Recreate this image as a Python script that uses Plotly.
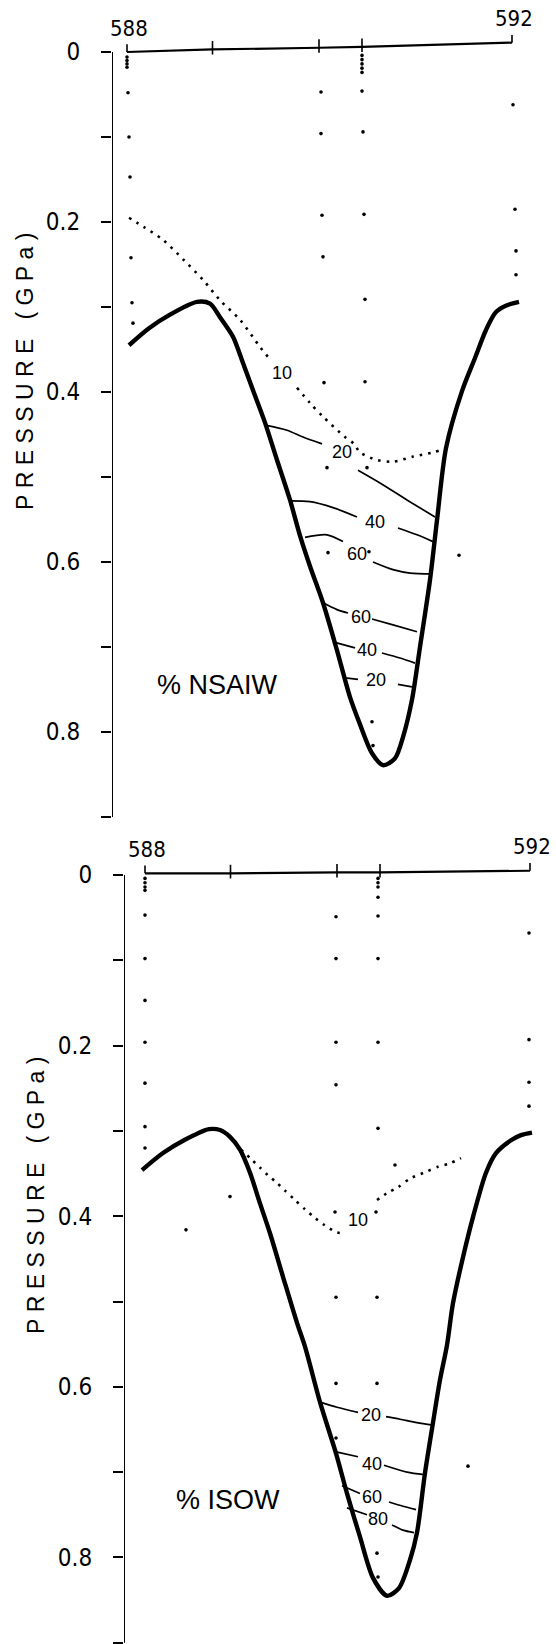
import plotly.graph_objects as go

# ---------------- data ----------------
# station positions along the section (km from station 588)
station_x = [0.0, 17.1, 38.4, 47.0, 77.0]
station_labels = ["588", "", "", "", "592"]

pressure_ticks = [0.0, 0.1, 0.2, 0.3, 0.4, 0.5, 0.6, 0.7, 0.8, 0.9]
pressure_tick_labels = ["0", "", "0.2", "", "0.4", "", "0.6", "", "0.8", ""]
pressure_axis_span = [0.0, 0.9]

# ---- upper panel: % NSAIW ----
nsaiw_surface_p = [0.0, -0.003, -0.005, -0.006, -0.011]
nsaiw_bottom = [(0.4, 0.345), (4.4, 0.325), (8.6, 0.309), (14.0, 0.294), (16.6, 0.296),
                (18.6, 0.312), (21.2, 0.335), (23.2, 0.366), (25.2, 0.398), (27.6, 0.436),
                (30.0, 0.480), (32.6, 0.527), (34.6, 0.569), (36.6, 0.605), (39.2, 0.648),
                (42.0, 0.704), (44.6, 0.759), (46.6, 0.791), (49.0, 0.825), (51.2, 0.839),
                (53.6, 0.831), (55.2, 0.806), (57.0, 0.762), (58.6, 0.700), (60.6, 0.621),
                (62.0, 0.551), (63.8, 0.466), (67.0, 0.399), (69.6, 0.360), (71.8, 0.327),
                (73.8, 0.306), (76.0, 0.298), (78.4, 0.294)]
nsaiw_10_a = [(0.4, 0.195), (3.4, 0.206), (7.2, 0.221), (11.4, 0.245), (15.2, 0.268),
              (18.6, 0.292), (22.6, 0.315), (26.6, 0.347), (28.4, 0.360)]
nsaiw_10_b = [(34.0, 0.395), (36.6, 0.413), (39.2, 0.429), (43.6, 0.453), (45.4, 0.461),
              (46.6, 0.471), (50.0, 0.480), (53.2, 0.482), (57.2, 0.476), (61.2, 0.471),
              (64.0, 0.466)]
nsaiw_20_a = [(27.6, 0.439), (32.0, 0.445), (35.2, 0.453), (39.0, 0.461)]
nsaiw_20_b = [(46.2, 0.492), (50.6, 0.507), (56.0, 0.527), (61.6, 0.547)]
nsaiw_40_a = [(32.6, 0.528), (36.6, 0.529), (41.2, 0.536), (46.0, 0.547)]
nsaiw_40_b = [(54.2, 0.560), (58.0, 0.568), (61.2, 0.576)]
nsaiw_60_a = [(35.6, 0.571), (40.0, 0.568), (43.2, 0.576)]
nsaiw_60_b = [(49.2, 0.600), (53.2, 0.609), (56.6, 0.613), (61.0, 0.614)]
nsaiw_60_c = [(39.2, 0.648), (42.0, 0.656), (44.2, 0.660)]
nsaiw_60_d = [(49.0, 0.667), (53.2, 0.674), (58.0, 0.682)]
nsaiw_40_c = [(41.2, 0.694), (45.6, 0.701)]
nsaiw_40_d = [(51.0, 0.707), (54.6, 0.713), (57.6, 0.719)]
nsaiw_20_c = [(43.2, 0.736), (46.2, 0.738)]
nsaiw_20_d = [(54.2, 0.744), (57.0, 0.747)]
nsaiw_contour_labels = ["10", "20", "40", "60", "60", "40", "20"]
nsaiw_contour_label_pos = [(31.0, 0.378), (43.0, 0.471), (49.6, 0.553), (46.0, 0.591),
                           (46.8, 0.665), (48.0, 0.703), (49.8, 0.739)]
nsaiw_samples = [(0.0, 0.006), (0.0, 0.010), (0.0, 0.014), (0.0, 0.018), (0.2, 0.048),
                 (0.4, 0.100), (0.6, 0.147), (0.8, 0.242), (1.0, 0.295), (1.2, 0.319),
                 (38.8, 0.047), (38.8, 0.096), (39.0, 0.192), (39.2, 0.241), (39.4, 0.389),
                 (40.0, 0.489), (40.2, 0.589),
                 (47.0, 0.004), (47.0, 0.009), (47.0, 0.014), (47.0, 0.019), (47.0, 0.024),
                 (47.0, 0.046), (47.2, 0.094), (47.4, 0.191), (47.6, 0.291), (47.6, 0.388),
                 (48.0, 0.489), (48.4, 0.588), (49.0, 0.788), (49.2, 0.816),
                 (77.2, 0.062), (77.6, 0.185), (77.8, 0.234), (77.8, 0.262),
                 (66.4, 0.592)]

# ---- lower panel: % ISOW ----
isow_surface_p = [-0.002, -0.002, -0.003, -0.003, -0.005]
isow_bottom = [(-0.6, 0.346), (3.6, 0.326), (7.8, 0.311), (12.8, 0.298), (15.0, 0.299),
               (17.0, 0.307), (19.0, 0.322), (21.0, 0.349), (23.0, 0.385), (25.0, 0.420),
               (27.6, 0.471), (30.4, 0.525), (32.0, 0.553), (35.0, 0.618), (38.2, 0.678),
               (40.4, 0.725), (43.0, 0.776), (45.6, 0.824), (48.4, 0.845), (50.8, 0.836),
               (53.0, 0.803), (54.4, 0.771), (56.0, 0.701), (57.6, 0.642), (59.0, 0.592),
               (60.4, 0.551), (61.6, 0.502), (63.6, 0.448), (65.6, 0.401), (68.2, 0.349),
               (70.2, 0.326), (73.2, 0.311), (75.2, 0.305), (77.4, 0.302)]
isow_10_a = [(19.2, 0.322), (21.4, 0.334), (23.0, 0.343), (24.6, 0.352), (26.4, 0.361),
             (28.0, 0.370), (30.0, 0.381), (32.0, 0.392), (34.0, 0.402), (35.8, 0.410),
             (38.4, 0.419), (40.0, 0.420)]
isow_10_b = [(46.4, 0.381), (48.4, 0.373), (50.6, 0.366), (53.0, 0.356), (56.2, 0.348),
             (58.6, 0.342), (61.0, 0.338), (63.2, 0.332)]
isow_20_a = [(35.0, 0.618), (38.4, 0.624), (42.6, 0.630)]
isow_20_b = [(48.2, 0.635), (51.0, 0.638), (54.4, 0.642), (57.6, 0.645)]
isow_40_a = [(38.0, 0.676), (42.6, 0.682)]
isow_40_b = [(47.8, 0.692), (52.4, 0.700), (55.8, 0.703)]
isow_60_a = [(39.4, 0.716), (43.0, 0.725)]
isow_60_b = [(48.8, 0.735), (51.6, 0.740), (54.2, 0.744)]
isow_80_a = [(40.4, 0.742), (44.4, 0.750)]
isow_80_b = [(49.4, 0.762), (51.6, 0.768), (53.8, 0.771)]
isow_contour_labels = ["10", "20", "40", "60", "80"]
isow_contour_label_pos = [(42.6, 0.404), (45.2, 0.633), (45.4, 0.691), (45.4, 0.729),
                          (46.6, 0.755)]
isow_samples = [(0.0, 0.004), (0.0, 0.009), (0.0, 0.014), (0.0, 0.018), (0.0, 0.047),
                (0.0, 0.098), (0.0, 0.147), (0.0, 0.196), (0.0, 0.244), (0.0, 0.295),
                (0.0, 0.320),
                (17.0, 0.377),
                (38.2, 0.049), (38.2, 0.098), (38.2, 0.196), (38.2, 0.246), (38.0, 0.395),
                (38.2, 0.495), (38.2, 0.596), (38.2, 0.660),
                (46.6, 0.004), (46.6, 0.009), (46.6, 0.014), (46.6, 0.026), (46.6, 0.048),
                (46.6, 0.098), (46.6, 0.196), (46.6, 0.297), (46.2, 0.395), (46.4, 0.495),
                (46.4, 0.596), (46.4, 0.795), (46.6, 0.823),
                (76.8, 0.068), (76.8, 0.193), (76.8, 0.243), (76.8, 0.271),
                (8.2, 0.416), (50.0, 0.340), (64.6, 0.693)]

panel_titles = ["% NSAIW", "% ISOW"]
panel_title_pos = [(18.0, 0.745), (16.6, 0.733)]

# ---------------- figure ----------------
W, H = 556, 1644
P_TOP = -0.055          # pressure shown above the surface line (room for labels)
X_RANGES = {"x": [-3.0, 85.8], "x2": [-4.2, 82.2]}

fig = go.Figure()

TICK_FONT = dict(family="DejaVu Sans Condensed, Liberation Sans Narrow, sans-serif",
                 size=24, color="black")
LABEL_FONT = dict(family="Liberation Sans, Arial, sans-serif", size=18, color="black")


def xs(pts):
    return [p[0] for p in pts]


def ys(pts):
    return [p[1] for p in pts]


def add_line(pts, xa, ya, width, dash="solid", smooth=True):
    fig.add_trace(go.Scatter(
        x=xs(pts), y=ys(pts), xaxis=xa, yaxis=ya, mode="lines",
        line=dict(color="black", width=width, dash=dash,
                  shape="spline" if smooth else "linear", smoothing=0.8),
        hoverinfo="skip", cliponaxis=False))


def add_panel(xa, ya, surface_p, bottom, dotted, solid, samples,
              labels, label_pos, title, title_pos):
    # pressure axis line (from 0 down to 0.9 only)
    x0 = X_RANGES[xa][0]
    fig.add_trace(go.Scatter(x=[x0, x0], y=pressure_axis_span, xaxis=xa, yaxis=ya,
                             mode="lines", line=dict(color="black", width=2),
                             hoverinfo="skip", cliponaxis=False))
    # surface line with station ticks
    fig.add_trace(go.Scatter(x=station_x, y=surface_p, xaxis=xa, yaxis=ya,
                             mode="lines", line=dict(color="black", width=2.2),
                             hoverinfo="skip", cliponaxis=False))
    tx, ty = [], []
    for i, sx in enumerate(station_x):
        base = surface_p[i]
        if i in (0, len(station_x) - 1):
            tx += [sx, sx, None]
            ty += [base - 0.009, base, None]
        else:
            tx += [sx, sx, None]
            ty += [base - 0.010, base + 0.006, None]
    fig.add_trace(go.Scatter(x=tx, y=ty, xaxis=xa, yaxis=ya, mode="lines",
                             line=dict(color="black", width=1.6),
                             hoverinfo="skip", cliponaxis=False))
    # sample points
    fig.add_trace(go.Scatter(x=xs(samples), y=ys(samples), xaxis=xa, yaxis=ya,
                             mode="markers", marker=dict(color="black", size=3.6),
                             hoverinfo="skip", cliponaxis=False))
    # bottom topography
    add_line(bottom, xa, ya, 4.4)
    for seg in dotted:
        add_line(seg, xa, ya, 2.6, dash="2.5px,6px")
    for seg in solid:
        add_line(seg, xa, ya, 1.7)
    for txt, (lx, lp) in zip(labels, label_pos):
        fig.add_annotation(x=lx, y=lp, xref=xa, yref=ya, text=txt, showarrow=False,
                           font=LABEL_FONT, xanchor="center", yanchor="middle")
    for txt, sx, sp in zip(station_labels, station_x, surface_p):
        if txt:
            fig.add_annotation(x=sx + 0.3, y=sp - 0.028, xref=xa, yref=ya, text=txt,
                               showarrow=False, font=dict(TICK_FONT, size=22),
                               xanchor="center", yanchor="middle")
    fig.add_annotation(x=title_pos[0], y=title_pos[1], xref=xa, yref=ya, text=title,
                       showarrow=False,
                       font=dict(family="Liberation Sans, Arial, sans-serif", size=27,
                                 color="black"),
                       xanchor="center", yanchor="middle")


add_panel("x", "y", nsaiw_surface_p, nsaiw_bottom, [nsaiw_10_a, nsaiw_10_b],
          [nsaiw_20_a, nsaiw_20_b, nsaiw_40_a, nsaiw_40_b, nsaiw_60_a, nsaiw_60_b,
           nsaiw_60_c, nsaiw_60_d, nsaiw_40_c, nsaiw_40_d, nsaiw_20_c, nsaiw_20_d],
          nsaiw_samples, nsaiw_contour_labels, nsaiw_contour_label_pos,
          panel_titles[0], panel_title_pos[0])

add_panel("x2", "y2", isow_surface_p, isow_bottom, [isow_10_a, isow_10_b],
          [isow_20_a, isow_20_b, isow_40_a, isow_40_b, isow_60_a, isow_60_b,
           isow_80_a, isow_80_b],
          isow_samples, isow_contour_labels, isow_contour_label_pos,
          panel_titles[1], panel_title_pos[1])

ytitle = "\u00a0".join(list("PRESSURE")) + "\u00a0\u00a0\u00a0" + "\u00a0".join(list("(GPa)"))
for yc, xc in [(372, 25), (1196, 36)]:
    fig.add_annotation(x=xc / W, y=1 - yc / H, xref="paper", yref="paper", text=ytitle,
                       textangle=-90, showarrow=False,
                       font=dict(family="Liberation Sans, Arial, sans-serif", size=23,
                                 color="black"),
                       xanchor="center", yanchor="middle")

yaxis_common = dict(range=[0.9004, P_TOP], showline=False,
                    ticks="outside", ticklen=10, tickwidth=2, tickcolor="black",
                    tickvals=pressure_ticks, ticktext=pressure_tick_labels,
                    tickfont=TICK_FONT, showgrid=False, zeroline=False,
                    ticklabelstandoff=16, fixedrange=True)
xaxis_common = dict(visible=False, showgrid=False, zeroline=False, fixedrange=True)

# pixel scale: upper panel 850 px per GPa with 0 at y=52; lower 853 px per GPa, 0 at y=875
top_px = (52 + P_TOP * 850, 52 + 0.9004 * 850)
bot_px = (875 + P_TOP * 853, 875 + 0.9004 * 853)

fig.update_layout(
    width=W, height=H, margin=dict(l=0, r=0, t=0, b=0),
    paper_bgcolor="white", plot_bgcolor="white", showlegend=False,
    xaxis=dict(domain=[112 / W, 1.0], range=X_RANGES["x"], anchor="y", **xaxis_common),
    yaxis=dict(domain=[1 - top_px[1] / H, 1 - top_px[0] / H], anchor="x", **yaxis_common),
    xaxis2=dict(domain=[124 / W, 1.0], range=X_RANGES["x2"], anchor="y2", **xaxis_common),
    yaxis2=dict(domain=[max(0.0, 1 - bot_px[1] / H), 1 - bot_px[0] / H], anchor="x2",
                **yaxis_common),
)

fig.write_html("out.html", config={"displayModeBar": False},
               post_script="document.body.style.margin='0px';"
                           "document.body.style.overflow='hidden';")
